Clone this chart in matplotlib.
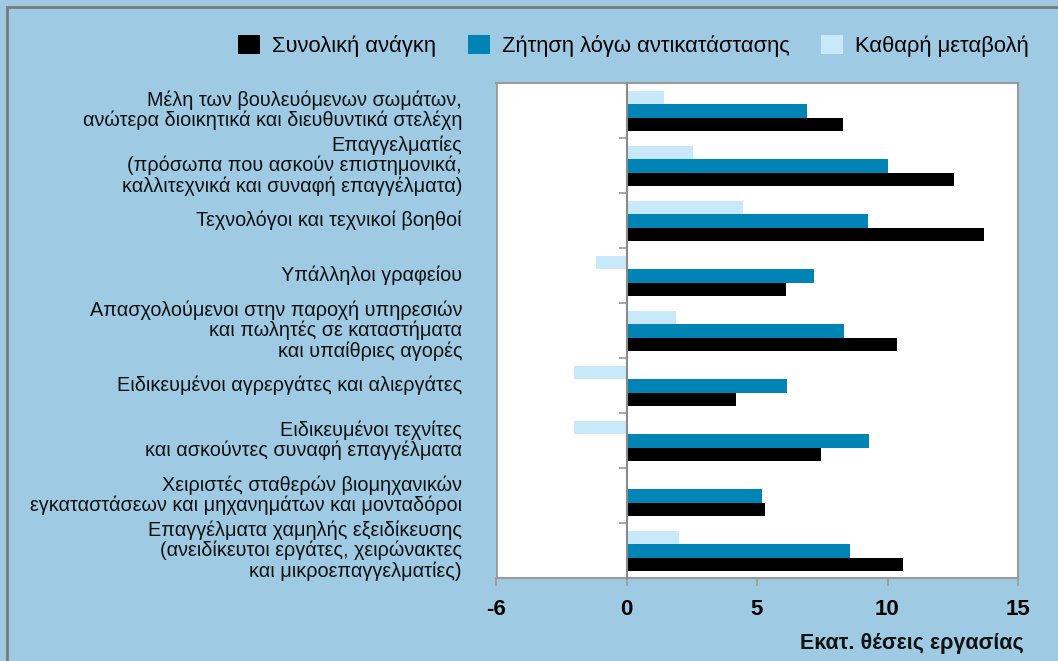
#!/usr/bin/env python3
"""Occupational demand chart: total need, replacement demand and net change."""

import matplotlib

matplotlib.use("Agg")
import matplotlib.pyplot as plt
from matplotlib.patches import Patch, Rectangle
from matplotlib.transforms import blended_transform_factory
import numpy as np

plt.rcParams["font.family"] = ["Liberation Sans", "DejaVu Sans"]

categories = [
    "Μέλη των βουλευόμενων σωμάτων,\nανώτερα διοικητικά και διευθυντικά στελέχη",
    "Επαγγελματίες\n(πρόσωπα που ασκούν επιστημονικά,\nκαλλιτεχνικά και συναφή επαγγέλματα)",
    "Τεχνολόγοι και τεχνικοί βοηθοί",
    "Υπάλληλοι γραφείου",
    "Απασχολούμενοι στην παροχή υπηρεσιών\nκαι πωλητές σε καταστήματα\nκαι υπαίθριες αγορές",
    "Ειδικευμένοι αγρεργάτες και αλιεργάτες",
    "Ειδικευμένοι τεχνίτες\nκαι ασκούντες συναφή επαγγέλματα",
    "Χειριστές σταθερών βιομηχανικών\nεγκαταστάσεων και μηχανημάτων και μονταδόροι",
    "Επαγγέλματα χαμηλής εξειδίκευσης\n(ανειδίκευτοι εργάτες, χειρώνακτες\nκαι μικροεπαγγελματίες)",
]
total_need = [8.3, 12.55, 13.7, 6.1, 10.35, 4.2, 7.45, 5.3, 10.6]
replacement = [6.9, 10.0, 9.25, 7.2, 8.35, 6.15, 9.3, 5.2, 8.55]
net_change = [1.45, 2.55, 4.45, -1.15, 1.9, -2.0, -2.0, 0.0, 2.0]

series_names = ["Συνολική ανάγκη", "Ζήτηση λόγω αντικατάστασης", "Καθαρή μεταβολή"]
x_ticks = [-5, 0, 5, 10, 15]
x_tick_labels = ["-6", "0", "5", "10", "15"]
x_label = "Εκατ. θέσεις εργασίας"

BG = "#9ECBE3"
BLACK = "#000000"
BLUE = "#0084B5"
LIGHT = "#C8E9F9"
GREY = "#9a9a9a"

W, H = 1058, 661
fig = plt.figure(figsize=(W / 100, H / 100), dpi=100, facecolor=BG)

# outer frame of the panel
fig.patches.append(Rectangle((7 / W, -0.05), 1.2, 1 - 7 / H + 0.05, transform=fig.transFigure,
                             fill=False, edgecolor="#7a7a7a", linewidth=2))

ax = fig.add_axes([496 / W, (H - 578) / H, (1018 - 496) / W, 495 / H])
ax.set_facecolor("white")

y = np.arange(len(categories))
bar_h = 0.245
ax.barh(y - 0.235, net_change, height=bar_h, color=LIGHT, zorder=2)
ax.barh(y + 0.01, replacement, height=bar_h, color=BLUE, zorder=2)
ax.barh(y + 0.255, total_need, height=bar_h, color=BLACK, zorder=2)

ax.set_xlim(-5, 15)
ax.set_ylim(len(categories) - 0.5, -0.5)

for side in ("top", "right", "bottom"):
    ax.spines[side].set_color(GREY)
    ax.spines[side].set_linewidth(1.5)
ax.spines["left"].set_position(("data", 0))
ax.spines["left"].set_color("#8a8a8a")
ax.spines["left"].set_linewidth(1.5)
ax.spines["left"].set_zorder(3)
# left border of the white plot area
ax.axvline(-5, color=GREY, linewidth=2, zorder=3)

ax.set_yticks(np.arange(-0.5, len(categories) + 0.5, 1))
ax.set_yticklabels([])
ax.tick_params(axis="y", direction="out", length=6, width=1.2, color=GREY)

ax.set_xticks(x_ticks)
ax.set_xticklabels(x_tick_labels, fontsize=16, fontweight="bold")
ax.tick_params(axis="x", direction="out", length=6, width=1.2, color=GREY, pad=9)

trans = blended_transform_factory(ax.transAxes, ax.transData)
for i, label in enumerate(categories):
    ax.text(-0.065, i, label, transform=trans, ha="right", va="center",
            fontsize=14.3, linespacing=1.06, color="#111111")

fig.text(1024 / W, 1 - 643 / H, x_label, ha="right", va="center",
         fontsize=15.5, fontweight="bold", color="#111111")

handles = [Patch(facecolor=c, edgecolor="none") for c in (BLACK, BLUE, LIGHT)]
fig.legend(handles, series_names, loc="center right", bbox_to_anchor=(1038 / W, 1 - 46 / H),
           ncol=3, frameon=False, fontsize=15.8, handlelength=1.0, handleheight=1.0,
           handletextpad=0.55, columnspacing=1.45, borderaxespad=0)

fig.savefig("out.png", dpi=100, facecolor=BG)
